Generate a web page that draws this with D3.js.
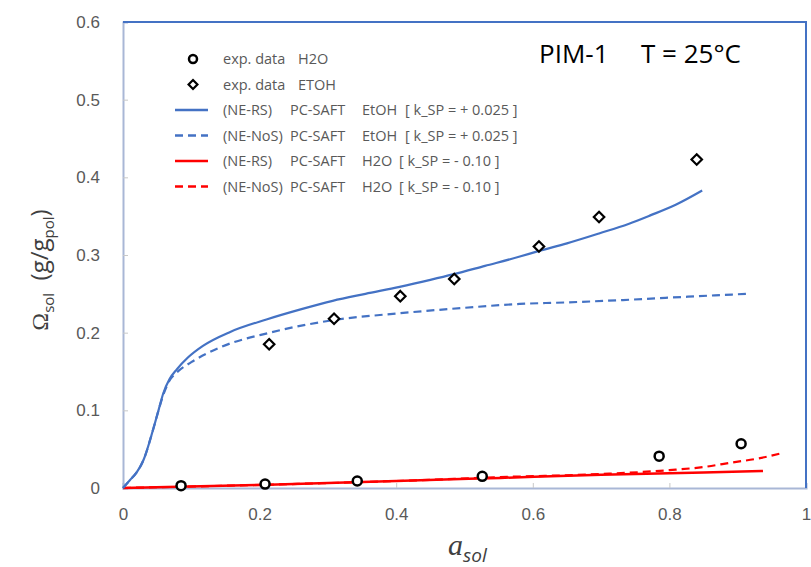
<!DOCTYPE html>
<html>
<head>
<meta charset="utf-8">
<style>
  body { margin: 0; background: #fff; }
  svg { display: block; font-family: "Open Sans", "Liberation Sans", sans-serif; }
</style>
</head>
<body>
<script src="https://d3js.org/d3.v7.min.js"></script>
<script>

var width = 811,
    height = 567;
var margin = {"top": 22, "right": 5, "bottom": 79, "left": 123};

var blue = "#4472C4",
    red = "#FF0000";

// experimental points
var h2oA = [0.085, 0.208, 0.343, 0.526, 0.785, 0.905];
var h2oW = [0.003, 0.005, 0.009, 0.015, 0.041, 0.057];

var etohA = [0.214, 0.309, 0.406, 0.485, 0.609, 0.697, 0.840];
var etohW = [0.185, 0.218, 0.247, 0.269, 0.311, 0.349, 0.423];

// model curves
var rsEtohA = [0, 0.01, 0.02, 0.03, 0.044, 0.052, 0.059, 0.068, 0.079, 0.095, 0.117, 0.157, 0.21, 0.26, 0.307, 0.355, 0.405, 0.45, 0.483, 0.53, 0.581, 0.608, 0.65, 0.698, 0.74, 0.772, 0.81, 0.848];
var rsEtohW = [0, 0.01, 0.02, 0.036, 0.075, 0.1, 0.122, 0.14, 0.153, 0.168, 0.183, 0.201, 0.217, 0.23, 0.241, 0.25, 0.259, 0.268, 0.275, 0.286, 0.298, 0.305, 0.315, 0.328, 0.340, 0.351, 0.365, 0.383];

var nosEtohA = [0, 0.01, 0.02, 0.03, 0.044, 0.052, 0.059, 0.068, 0.079, 0.1, 0.142, 0.215, 0.307, 0.405, 0.5, 0.581, 0.65, 0.732, 0.82, 0.913];
var nosEtohW = [0, 0.01, 0.02, 0.036, 0.075, 0.1, 0.12, 0.138, 0.149, 0.162, 0.181, 0.2, 0.216, 0.225, 0.232, 0.237, 0.239, 0.242, 0.246, 0.25];

var rsH2oA = [0, 0.2, 0.4, 0.552, 0.7, 0.85, 0.937];
var rsH2oW = [0, 0.004, 0.009, 0.013, 0.017, 0.020, 0.022];

var nosH2oA = [0, 0.2, 0.4, 0.552, 0.7, 0.8, 0.85, 0.893, 0.93, 0.965];
var nosH2oW = [0, 0.004, 0.009, 0.014, 0.018, 0.023, 0.027, 0.033, 0.038, 0.045];

var xTicks = [0, 0.2, 0.4, 0.6, 0.8, 1];
var yTicks = [0, 0.1, 0.2, 0.3, 0.4, 0.5, 0.6];

// legend columns: label, model, solvent, parameter
var legendCol1 = ["exp. data", "exp. data", "(NE-RS)", "(NE-NoS)", "(NE-RS)", "(NE-NoS)"];
var legendCol2 = ["H2O", "ETOH", "PC-SAFT", "PC-SAFT", "PC-SAFT", "PC-SAFT"];
var legendCol3 = ["", "", "EtOH", "EtOH", "H2O", "H2O"];
var legendCol4 = ["", "", "[ k_SP = + 0.025 ]", "[ k_SP = + 0.025 ]", "[ k_SP = - 0.10 ]", "[ k_SP = - 0.10 ]"];

var svg = d3.select("body").append("svg")
    .attr("width", width)
    .attr("height", height);

var x = d3.scaleLinear().domain([0, 1]).range([margin.left, width - margin.right - 0]);
var y = d3.scaleLinear().domain([0, 0.6]).range([height - margin.bottom, margin.top]);

// axes
var xAxis = svg.append("g")
    .attr("transform", "translate(0," + y(0) + ")")
    .call(d3.axisBottom(x).tickValues(xTicks).tickSize(-5).tickPadding(20)
      .tickFormat(function(d) { return d === 0 || d === 1 ? d : d3.format(".1f")(d); }));
xAxis.select(".domain").attr("stroke", "#A9B7D6").attr("stroke-width", 2);
xAxis.selectAll(".tick line").attr("stroke", "#C8C8C8");
xAxis.selectAll("text").attr("fill", "#595959").style("font-size", "17px");

var yAxis = svg.append("g")
    .attr("transform", "translate(" + x(0) + ",0)")
    .call(d3.axisLeft(y).tickValues(yTicks).tickSize(-5).tickPadding(23)
      .tickFormat(function(d) { return d === 0 ? "0" : d3.format(".1f")(d); }));
yAxis.select(".domain").attr("stroke", "#A9B7D6").attr("stroke-width", 2);
yAxis.selectAll(".tick line").attr("stroke", "#C8C8C8");
yAxis.selectAll("text").attr("fill", "#595959").style("font-size", "17px");

// top and right frame
svg.append("path")
    .attr("d", d3.line()([[x(0), y(0.6)], [x(1), y(0.6)], [x(1), y(0)]]))
    .attr("fill", "none")
    .attr("stroke", blue)
    .attr("stroke-width", 2);

var line = d3.line()
    .x(function(d) { return x(d[0]); })
    .y(function(d) { return y(d[1]); })
    .curve(d3.curveMonotoneX);

function zip(a, b) { return a.map(function(v, i) { return [v, b[i]]; }); }

var curves = [
  {a: nosH2oA, w: nosH2oW, color: red, dash: "8,5", sw: 2.2},
  {a: rsH2oA, w: rsH2oW, color: red, dash: null, sw: 2.5},
  {a: nosEtohA, w: nosEtohW, color: blue, dash: "8,5", sw: 2.2},
  {a: rsEtohA, w: rsEtohW, color: blue, dash: null, sw: 2.2}
];

svg.append("g").selectAll("path")
    .data(curves)
    .enter().append("path")
    .attr("d", function(d) { return line(zip(d.a, d.w)); })
    .attr("fill", "none")
    .attr("stroke", function(d) { return d.color; })
    .attr("stroke-width", function(d) { return d.sw; })
    .attr("stroke-dasharray", function(d) { return d.dash; });

// experimental markers
svg.append("g").selectAll("circle")
    .data(zip(h2oA, h2oW))
    .enter().append("circle")
    .attr("cx", function(d) { return x(d[0]); })
    .attr("cy", function(d) { return y(d[1]); })
    .attr("r", 4.5)
    .attr("fill", "#fff")
    .attr("stroke", "#000")
    .attr("stroke-width", 2.5);

var diamond = d3.symbol().type(d3.symbolDiamond2).size(70);
svg.append("g").selectAll("path")
    .data(zip(etohA, etohW))
    .enter().append("path")
    .attr("transform", function(d) { return "translate(" + x(d[0]) + "," + y(d[1]) + ")"; })
    .attr("d", diamond)
    .attr("fill", "#fff")
    .attr("stroke", "#000")
    .attr("stroke-width", 2.2);

// legend
var legend = svg.append("g").attr("transform", "translate(175,59)");
var rowH = 25.5;

var rows = legend.selectAll(".row")
    .data(legendCol1)
    .enter().append("text")
    .attr("class", "row")
    .attr("y", function(d, i) { return i * rowH; })
    .attr("dy", "0.35em")
    .attr("fill", "#595959")
    .style("font-size", "14.5px");

rows.append("tspan").attr("x", 48).text(function(d) { return d; });
rows.append("tspan")
    .attr("x", function(d, i) { return i < 2 ? 123 : 115; })
    .text(function(d, i) { return legendCol2[i]; });
rows.append("tspan")
    .attr("x", 187)
    .text(function(d, i) { return legendCol3[i]; });
rows.append("tspan")
    .attr("x", function(d, i) { return i < 4 ? 230 : 224; })
    .text(function(d, i) { return legendCol4[i]; });

legend.append("circle")
    .attr("cx", 18).attr("cy", 0).attr("r", 4)
    .attr("fill", "#fff").attr("stroke", "#000").attr("stroke-width", 2.5);
legend.append("path")
    .attr("transform", "translate(18," + rowH + ")")
    .attr("d", d3.symbol().type(d3.symbolDiamond2).size(50))
    .attr("fill", "#fff").attr("stroke", "#000").attr("stroke-width", 2.2);

var legLines = [
  {color: blue, dash: null},
  {color: blue, dash: "8,5"},
  {color: red, dash: null},
  {color: red, dash: "8,5"}
];
legend.selectAll(".legline")
    .data(legLines)
    .enter().append("line")
    .attr("class", "legline")
    .attr("x1", 0).attr("x2", 33)
    .attr("y1", function(d, i) { return (i + 2) * rowH; })
    .attr("y2", function(d, i) { return (i + 2) * rowH; })
    .attr("stroke", function(d) { return d.color; })
    .attr("stroke-width", 2.5)
    .attr("stroke-dasharray", function(d) { return d.dash; });

// title
var title = svg.append("text")
    .attr("y", 63)
    .style("font-size", "26px")
    .attr("fill", "#000");
title.append("tspan").attr("x", 539).text("PIM-1");
title.append("tspan").attr("x", 641).text("T = 25°C");

// y axis title
var yt = svg.append("text")
    .attr("transform", "translate(48,270) rotate(-90)")
    .attr("text-anchor", "middle")
    .attr("fill", "#404040")
    .style("font-size", "24px");
yt.append("tspan").style("font-family", "'Liberation Serif', serif").text("Ω");
yt.append("tspan").attr("dy", 6).style("font-size", "15px").text("sol");
yt.append("tspan").attr("dy", -6).attr("xml:space", "preserve").style("white-space", "pre").text("  (g/g");
yt.append("tspan").attr("dy", 6).style("font-size", "15px").text("pol");
yt.append("tspan").attr("dy", -6).text(")");

// x axis title
var xt = svg.append("text")
    .attr("x", 448)
    .attr("y", 555)
    .attr("fill", "#404040")
    .style("font-style", "italic");
xt.append("tspan").style("font-family", "'Liberation Serif', serif").style("font-size", "30px").text("a");
xt.append("tspan").attr("dy", 7).style("font-size", "19px").text("sol");

</script>
</body>
</html>
